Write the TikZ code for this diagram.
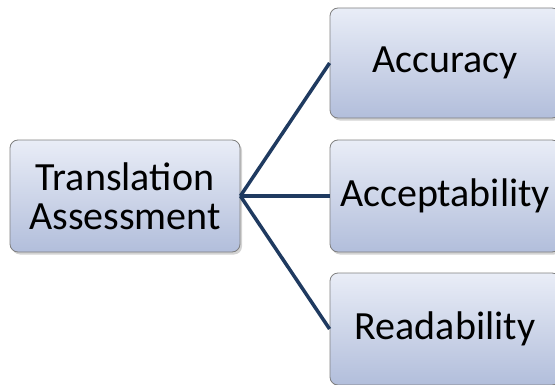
\documentclass[tikz,border=0pt]{standalone}
\usepackage{fontspec}
\setmainfont{Carlito}
\usetikzlibrary{shadows}
\definecolor{boxtop}{HTML}{E9EDF7}
\definecolor{boxbot}{HTML}{B2BEDB}
\definecolor{boxedge}{HTML}{7F7F7F}
\definecolor{linkcol}{HTML}{1F3A60}
\tikzset{
  box/.style={rectangle, rounded corners=8pt, draw=boxedge, line width=0.8pt,
    top color=boxtop, bottom color=boxbot, minimum width=230pt,
    minimum height=112pt, align=center, inner sep=0pt,
    font=\fontsize{40}{39}\selectfont,
    drop shadow={shadow xshift=2pt, shadow yshift=-2.5pt, opacity=0.35}},
  link/.style={draw=linkcol, line width=3.5pt}
}
\begin{document}
\begin{tikzpicture}[x=1pt,y=1pt]
  \useasboundingbox (0,0) rectangle (555,384);
  \clip (0,0) rectangle (555,384);
  \node[box] (root) at (125,188) {Translation\\Assessment};
  \node[box, minimum height=110pt] (acc) at (445,321) {Accuracy};
  \node[box] (accept) at (445,188) {Acceptability};
  \node[box] (read) at (445,55) {Readability};
  \draw[link] (root.east) -- (acc.west);
  \draw[link] (root.east) -- (accept.west);
  \draw[link] (root.east) -- (read.west);
\end{tikzpicture}
\end{document}
